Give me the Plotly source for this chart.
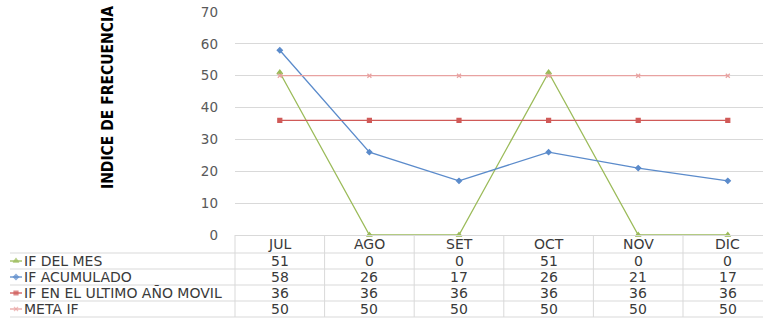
import plotly.graph_objects as go

# ---- data ----
months = ["JUL", "AGO", "SET", "OCT", "NOV", "DIC"]
series_names = ["IF DEL MES", "IF ACUMULADO", "IF EN EL ULTIMO AÑO MOVIL", "META IF"]
if_del_mes = [51, 0, 0, 51, 0, 0]
if_acumulado = [58, 26, 17, 26, 21, 17]
if_ultimo_anio = [36, 36, 36, 36, 36, 36]
meta_if = [50, 50, 50, 50, 50, 50]
y_ticks = [0, 10, 20, 30, 40, 50, 60, 70]

# ---- page geometry (pixels) ----
W, H = 763, 320
PLOT_L, PLOT_T, PLOT_B = 235, 12, 235
COL_W = 89.6
ROW_EDGES = [253, 269, 285, 301, 317]
HEADER_Y = 244
KEY_X0, KEY_X1 = 10, 22
LABEL_X = 22

def px(x):
    return x / W

def py(y):
    return 1 - y / H

styles = [
    dict(color="#9BBB59", symbol="triangle-up", size=5),
    dict(color="#5B8BCB", symbol="diamond", size=4),
    dict(color="#D05A58", symbol="square", size=4),
    dict(color="#E8A2A1", symbol="x-thin-open", size=4),
]
values = [if_del_mes, if_acumulado, if_ultimo_anio, meta_if]

x_idx = list(range(len(months)))
x_end = -0.5 + (W - PLOT_L) / COL_W

fig = go.Figure()

for name, vals, st in zip(series_names, values, styles):
    fig.add_trace(go.Scatter(
        x=x_idx, y=vals, name=name, mode="lines+markers",
        line=dict(color=st["color"], width=1.3),
        marker=dict(symbol=st["symbol"], size=st["size"], color=st["color"],
                    line=dict(color=st["color"], width=1.2)),
        cliponaxis=False, showlegend=False, hoverinfo="x+y+name",
    ))

# legend keys drawn in the label column of the data table
for i, st in enumerate(styles):
    yc = (ROW_EDGES[i] + ROW_EDGES[i + 1]) / 2
    fig.add_trace(go.Scatter(
        x=[KEY_X0, (KEY_X0 + KEY_X1) / 2, KEY_X1], y=[yc, yc, yc],
        mode="lines+markers", xaxis="x2", yaxis="y2",
        line=dict(color=st["color"], width=1.3),
        marker=dict(symbol=st["symbol"], size=[0, st["size"], 0], color=st["color"],
                    line=dict(color=st["color"], width=1.2)),
        showlegend=False, hoverinfo="skip",
    ))

font_main = "DejaVu Sans"
txt_color = "#3A3A3A"
fs = 14

annotations = []
shapes = []

# header row (month names)
for i, m in enumerate(months):
    annotations.append(dict(x=i, y=py(HEADER_Y), xref="x", yref="paper", text=m,
                            showarrow=False, font=dict(family=font_main, size=fs, color=txt_color),
                            xanchor="center", yanchor="middle"))

# body rows
for r, (name, vals) in enumerate(zip(series_names, values)):
    yc = (ROW_EDGES[r] + ROW_EDGES[r + 1]) / 2
    annotations.append(dict(x=px(LABEL_X), y=py(yc), xref="paper", yref="paper", text=name,
                            showarrow=False, font=dict(family=font_main, size=fs, color=txt_color),
                            xanchor="left", yanchor="middle"))
    for i, v in enumerate(vals):
        annotations.append(dict(x=i, y=py(yc), xref="x", yref="paper", text=str(v),
                                showarrow=False, font=dict(family=font_main, size=fs, color=txt_color),
                                xanchor="center", yanchor="middle"))

# table grid
grid_col = "#D9D9D9"
for yline in ROW_EDGES:
    shapes.append(dict(type="line", xref="paper", yref="paper",
                       x0=px(KEY_X0), x1=1, y0=py(yline), y1=py(yline),
                       line=dict(color=grid_col, width=1)))
for k in range(len(months)):
    xv = PLOT_L + k * COL_W
    shapes.append(dict(type="line", xref="paper", yref="paper",
                       x0=px(xv), x1=px(xv), y0=py(PLOT_B), y1=py(ROW_EDGES[-1]),
                       line=dict(color=grid_col, width=1)))

# y-axis title
annotations.append(dict(x=px(108), y=py(98), xref="paper", yref="paper",
                        text="<b>INDICE DE FRECUENCIA</b>", textangle=-90, showarrow=False,
                        font=dict(family="DejaVu Sans Condensed, Liberation Sans Narrow, DejaVu Sans, sans-serif",
                                  size=15.5, color="#000000"),
                        xanchor="center", yanchor="middle"))

fig.update_layout(
    template="none",
    width=W, height=H,
    margin=dict(l=0, r=0, t=0, b=0, pad=0, autoexpand=False),
    paper_bgcolor="white", plot_bgcolor="white",
    xaxis=dict(domain=[px(PLOT_L), 1], range=[-0.5, x_end], showticklabels=False,
               showgrid=False, zeroline=False, showline=True, linecolor=grid_col,
               linewidth=1, ticks="", fixedrange=True, automargin=False),
    yaxis=dict(domain=[py(PLOT_B), py(PLOT_T)], range=[0, 70], tickvals=y_ticks,
               showgrid=True, gridcolor=grid_col, gridwidth=1, zeroline=False,
               showline=False, ticks="", ticklabelstandoff=16, automargin=False,
               tickfont=dict(family=font_main, size=13.5, color="#595959"), fixedrange=True),
    xaxis2=dict(domain=[0, px(40)], range=[0, 40], visible=False, fixedrange=True,
                automargin=False),
    yaxis2=dict(domain=[0, 1], range=[H, 0], visible=False, fixedrange=True,
                automargin=False),
    annotations=annotations,
    shapes=shapes,
    showlegend=False,
)

fig.write_html("out.html")
